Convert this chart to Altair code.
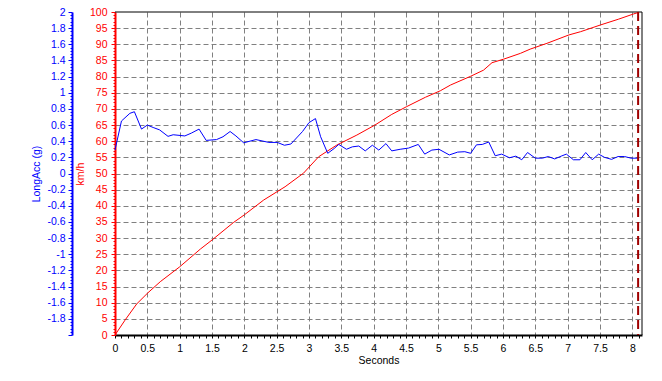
import altair as alt
import pandas as pd

# ---- data ----
acc_t = [0.0, 0.10, 0.23, 0.30, 0.41, 0.50, 0.59, 0.69, 0.82, 0.90, 1.08, 1.18, 1.30, 1.41, 1.57,
         1.67, 1.78, 1.87, 1.99, 2.18, 2.38, 2.51, 2.62, 2.72, 2.90, 3.00, 3.10, 3.18, 3.29, 3.39,
         3.46, 3.58, 3.67, 3.77, 3.87, 3.98, 4.08, 4.19, 4.28, 4.41, 4.54, 4.69, 4.79, 4.90, 5.01,
         5.17, 5.30, 5.41, 5.50, 5.59, 5.68, 5.78, 5.88, 5.98, 6.10, 6.20, 6.29, 6.38, 6.50, 6.61,
         6.70, 6.80, 6.90, 6.98, 7.09, 7.19, 7.28, 7.38, 7.48, 7.57, 7.68, 7.78, 7.88, 7.98, 8.09]
acc_g = [0.29, 0.65, 0.745, 0.765, 0.55, 0.60, 0.57, 0.54, 0.46, 0.48, 0.465, 0.50, 0.55, 0.41, 0.42,
         0.455, 0.52, 0.465, 0.38, 0.42, 0.385, 0.385, 0.35, 0.365, 0.52, 0.63, 0.68, 0.455, 0.25, 0.31,
         0.36, 0.30, 0.33, 0.34, 0.28, 0.35, 0.29, 0.37, 0.28, 0.30, 0.315, 0.36, 0.24, 0.29, 0.30,
         0.23, 0.265, 0.27, 0.25, 0.355, 0.36, 0.39, 0.22, 0.24, 0.195, 0.215, 0.17, 0.26, 0.19, 0.19,
         0.21, 0.18, 0.215, 0.24, 0.17, 0.17, 0.26, 0.17, 0.24, 0.20, 0.175, 0.21, 0.21, 0.19, 0.19]

spd_t = [0, 0.155, 0.335, 0.5, 0.70, 1.0, 1.32, 1.5, 1.83, 2.0, 2.30, 2.63, 2.915, 3.15, 3.43,
         3.74, 4.02, 4.28, 4.51, 4.80, 5.03, 5.19, 5.50, 5.70, 5.83, 6.01, 6.27, 6.42, 6.68, 7.02,
         7.20, 7.51, 7.79, 8.02, 8.10]
spd_v = [0.0, 4.6, 9.6, 12.9, 16.5, 21.1, 26.6, 29.4, 34.8, 37.2, 41.8, 45.9, 50.1, 55.2, 58.8,
         61.9, 65.0, 68.3, 70.7, 73.6, 75.6, 77.4, 80.1, 82.0, 84.3, 85.4, 87.2, 88.5, 90.3, 92.9,
         93.9, 96.0, 97.8, 99.4, 99.9]

marker_t = [8.09]          # red dashed cursor line
x_domain = [0, 8.15]
spd_domain = [0, 100]
acc_domain = [-2, 2]

x_ticks = [round(i * 0.1, 1) for i in range(0, 82)]
spd_ticks = list(range(0, 101))
acc_ticks = [round(-2 + i * 0.04, 2) for i in range(0, 101)]

FONT = "Liberation Sans"
FS = 10.5

major_x = "abs(datum.value*2 - round(datum.value*2)) < 0.001"
major_v = "abs(datum.value/5 - round(datum.value/5)) < 0.001"
major_g = "abs(datum.value*5 - round(datum.value*5)) < 0.001"

x_scale = alt.Scale(domain=x_domain, nice=False, zero=False)
spd_scale = alt.Scale(domain=spd_domain, nice=False)
acc_scale = alt.Scale(domain=acc_domain, nice=False)

x_axis = alt.Axis(
    values=x_ticks, title="Seconds", labelOverlap=False, labelFlush=False,
    labelExpr=f"({major_x}) ? format(datum.value, '~g') : ''",
    grid=True, gridColor="#808080", gridDash=[5, 3], gridWidth=1,
    gridOpacity={"condition": {"test": f"({major_x}) && datum.value > 0.01", "value": 1}, "value": 0},
    domainColor="black", domainWidth=2, tickColor="black", tickSize=3,
    labelColor="black", labelPadding=5, titleColor="black", titlePadding=2,
)

spd_axis = alt.Axis(
    orient="left", offset=0, values=spd_ticks, title="km/h", labelOverlap=False, labelFlush=False,
    labelExpr=f"({major_v}) ? format(datum.value, '~g') : ''",
    grid=True, gridColor="#808080", gridDash=[5, 3], gridWidth=1,
    gridOpacity={"condition": {"test": f"({major_v}) && datum.value > 0.5 && datum.value < 99.5", "value": 1}, "value": 0},
    domainColor="#FF0000", domainWidth=2, tickColor="#FF0000",
    tickSize={"condition": {"test": major_v, "value": 4}, "value": 2},
    labelColor="#FF0000", labelPadding=4, titleColor="#FF0000", titlePadding=4,
)

acc_axis = alt.Axis(
    orient="left", offset=43, values=acc_ticks, title="LongAcc (g)", labelOverlap=False, labelFlush=False,
    labelExpr=f"({major_g}) && datum.value > -1.99 ? ((datum.value < -0.0001 ? '-' : '') + format(abs(datum.value), '~g')) : ''",
    grid=False,
    domainColor="#0000FF", domainWidth=2, tickColor="#0000FF",
    tickSize={"condition": {"test": major_g, "value": 4}, "value": 2},
    labelColor="#0000FF", labelPadding=3, titleColor="#0000FF", titlePadding=5,
)

spd_df = pd.DataFrame({"t": spd_t, "v": spd_v})
acc_df = pd.DataFrame({"t": acc_t, "g": acc_g})

speed = alt.Chart(spd_df).mark_line(color="#FF0000", strokeWidth=1).encode(
    x=alt.X("t:Q", scale=x_scale, axis=x_axis),
    y=alt.Y("v:Q", scale=spd_scale, axis=spd_axis),
)
top_border = alt.Chart(pd.DataFrame({"v": [spd_domain[1]]})).mark_rule(color="black", strokeWidth=1).encode(
    y=alt.Y("v:Q", scale=spd_scale, axis=spd_axis)
)
speed_layer = alt.layer(top_border, speed)

acc = alt.Chart(acc_df).mark_line(color="#0000FF", strokeWidth=1).encode(
    x=alt.X("t:Q", scale=x_scale, axis=x_axis),
    y=alt.Y("g:Q", scale=acc_scale, axis=acc_axis),
)

marker = alt.Chart(pd.DataFrame({"t": marker_t})).mark_rule(
    color="#A00000", strokeWidth=2, strokeDash=[9, 5]
).encode(x=alt.X("t:Q", scale=x_scale, axis=x_axis))

right_border = alt.Chart(pd.DataFrame({"t": [x_domain[1]]})).mark_rule(color="black", strokeWidth=1).encode(
    x=alt.X("t:Q", scale=x_scale, axis=x_axis)
)

chart = alt.layer(speed_layer, acc, marker, right_border).resolve_scale(y="independent").properties(
    width=527, height=323,
    autosize=alt.AutoSizeParams(type="none"),
    padding={"left": 107, "top": 4, "right": 12, "bottom": 38},
    background="white",
).configure_view(stroke=None).configure_axis(
    labelFont=FONT, labelFontSize=FS, titleFont=FONT, titleFontSize=FS, titleFontWeight="normal",
)

chart.save("out.html", embed_options={"renderer": "svg", "actions": False})
